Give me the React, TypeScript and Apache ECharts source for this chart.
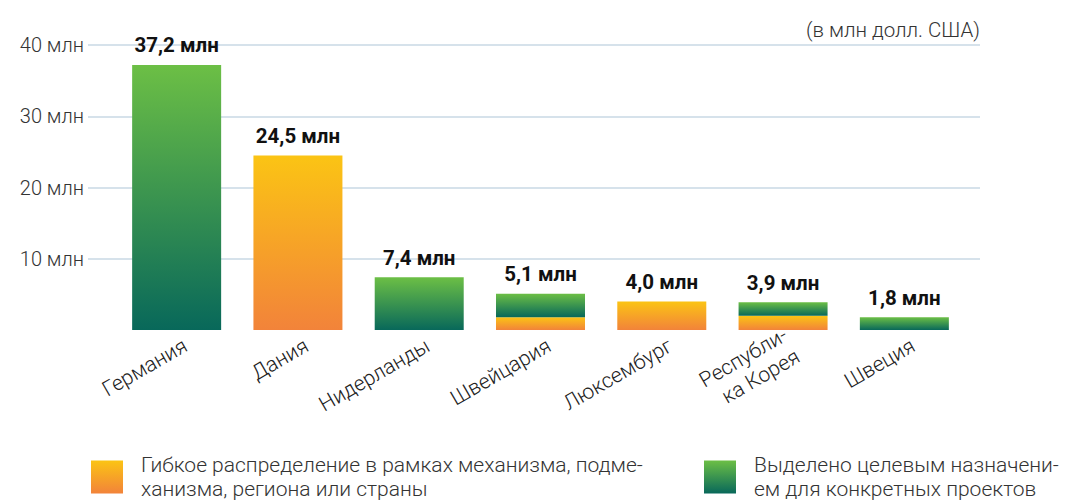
import React, { useEffect, useRef } from "react";
import * as echarts from "echarts";

const categories = [
  "Германия",
  "Дания",
  "Нидерланды",
  "Швейцария",
  "Люксембург",
  "Республи-\nка Корея",
  "Швеция",
];
const flexibleValues = [0, 24.5, 0, 1.8, 4.0, 2.0, 0];
const earmarkedValues = [37.2, 0, 7.4, 3.3, 0, 1.9, 1.8];
const totalLabels = ["37,2 млн", "24,5 млн", "7,4 млн", "5,1 млн", "4,0 млн", "3,9 млн", "1,8 млн"];
const totals = [37.2, 24.5, 7.4, 5.1, 4.0, 3.9, 1.8];
const yTicks = [0, 10, 20, 30, 40];
const legendFlexible = "Гибкое распределение в рамках механизма, подме-\nханизма, региона или страны";
const legendEarmarked = "Выделено целевым назначени-\nем для конкретных проектов";
const unitNote = "(в млн долл. США)";

const FONT = "Roboto, 'Noto Sans', sans-serif";

const greenGrad = () =>
  new echarts.graphic.LinearGradient(0, 0, 0, 1, [
    { offset: 0, color: "#6cbf45" },
    { offset: 1, color: "#08685a" },
  ]);
const orangeGrad = () =>
  new echarts.graphic.LinearGradient(0, 0, 0, 1, [
    { offset: 0, color: "#fbc414" },
    { offset: 1, color: "#f2833a" },
  ]);

export default function App() {
  const ref = useRef<HTMLDivElement>(null);
  useEffect(() => {
    document.body.style.margin = "0";
    if (!ref.current) return;
    const chart = echarts.init(ref.current, null, { renderer: "svg" });
    const yMax = yTicks[yTicks.length - 1];
    const legendText = {
      fontSize: 21,
      lineHeight: 24,
      color: "#333",
      fontFamily: FONT,
      fontWeight: 300,
      padding: [0, 0, 0, 13],
    };
    chart.setOption({
      animation: false,
      textStyle: { fontFamily: FONT },
      title: {
        text: unitNote,
        right: 85,
        top: 14,
        textStyle: { fontSize: 20.5, fontWeight: 300, color: "#333", fontFamily: FONT },
      },
      grid: [
        { left: 116, right: 105, top: 45, bottom: 170 },
        { left: 88, right: 90, top: 45, bottom: 170 },
      ],
      legend: [
        {
          data: ["flex"],
          left: 86,
          top: 448,
          itemWidth: 32,
          itemHeight: 33,
          icon: "rect",
          formatter: () => legendFlexible,
          textStyle: legendText,
          selectedMode: false,
        },
        {
          data: ["target"],
          left: 699,
          top: 448,
          itemWidth: 32,
          itemHeight: 33,
          icon: "rect",
          formatter: () => legendEarmarked,
          textStyle: legendText,
          selectedMode: false,
        },
      ],
      xAxis: [
        {
          type: "category",
          gridIndex: 0,
          data: categories,
          axisLine: { show: false },
          axisTick: { show: false },
          axisLabel: {
            rotate: 30,
            margin: 19,
            fontSize: 21,
            fontWeight: 300,
            color: "#222",
            fontFamily: FONT,
            lineHeight: 25,
            interval: 0,
            padding: [0, -10, 0, 0],
          },
        },
        { type: "value", gridIndex: 1, show: false, min: 0, max: 1 },
      ],
      yAxis: [
        { type: "value", gridIndex: 0, min: 0, max: yMax, interval: 10, show: false },
        {
          type: "value",
          gridIndex: 1,
          min: 0,
          max: yMax,
          interval: 10,
          axisLine: { show: false },
          axisTick: { show: false },
          splitLine: { show: true, showMinLine: false, lineStyle: { color: "#c9d8e4", width: 1.5 } },
          axisLabel: {
            margin: 4,
            fontSize: 20,
            fontWeight: 300,
            color: "#333",
            fontFamily: FONT,
            showMinLabel: false,
            formatter: (v: number) => (v === 0 ? "" : `${v} млн`),
          },
        },
      ],
      series: [
        {
          name: "flex",
          type: "bar",
          xAxisIndex: 0,
          yAxisIndex: 0,
          stack: "total",
          barWidth: 89,
          barGap: "-100%",
          data: flexibleValues,
          itemStyle: { color: orangeGrad() },
          silent: true,
        },
        {
          name: "target",
          type: "bar",
          xAxisIndex: 0,
          yAxisIndex: 0,
          stack: "total",
          barWidth: 89,
          barGap: "-100%",
          data: earmarkedValues,
          itemStyle: { color: greenGrad() },
          silent: true,
        },
        {
          name: "totals",
          type: "bar",
          xAxisIndex: 0,
          yAxisIndex: 0,
          barWidth: 89,
          barGap: "-100%",
          data: totals,
          itemStyle: { color: "rgba(0,0,0,0)" },
          silent: true,
          z: 1,
          label: {
            show: true,
            position: "top",
            distance: 9,
            fontSize: 20.5,
            fontWeight: "bold",
            color: "#111",
            fontFamily: FONT,
            formatter: (p: any) => totalLabels[p.dataIndex],
          },
        },
      ],
    });
    return () => chart.dispose();
  }, []);
  return <div ref={ref} style={{ width: 1070, height: 500 }} />;
}
